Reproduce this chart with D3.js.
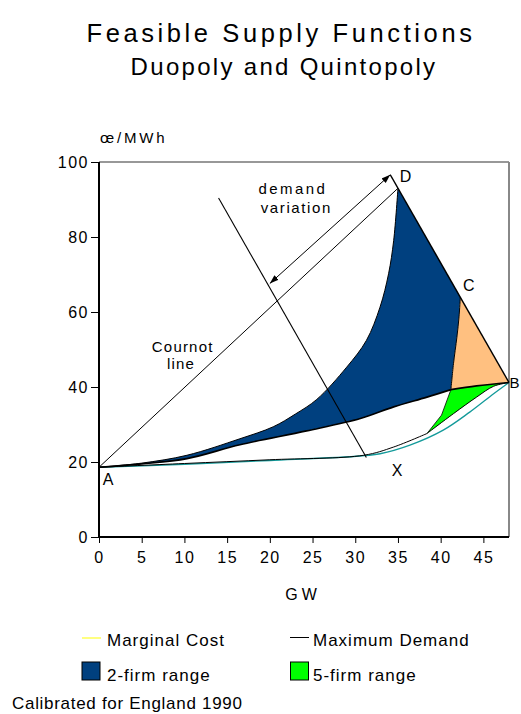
<!DOCTYPE html>
<html>
<head>
<meta charset="utf-8">
<script src="https://cdn.jsdelivr.net/npm/d3@7"></script>
<style>
  body { margin: 0; background: #fff; }
  text { font-family: "Liberation Sans", Arial, sans-serif; fill: #000; }
</style>
</head>
<body>
<div id="chart"></div>
<script>
// values (GW, £/MWh)
var xTicks = [0, 5, 10, 15, 20, 25, 30, 35, 40, 45];
var yTicks = [0, 20, 40, 60, 80, 100];

var pointA = [0, 18.6], pointB = [48, 41.2], pointC = [42.3, 64], pointD = [35, 93];
var pointP = [41.2, 39.3];   // where 2-firm, 5-firm and orange meet
var pointQ = [38.4, 27.6];   // bottom tip of 5-firm range

var marginalCost = [[0, 18.6], [10, 19.4], [20, 20.4], [30.6, 21.6], [32.9, 22.2], [36.4, 24.5],
                    [40.3, 28.5], [43.4, 33.3], [46.2, 38.2], [48, 41.2]];
var lowestSupply = [[0, 18.6], [10, 19.6], [20, 20.6], [31, 21.8], [34.5, 24], [38.4, 27.6]];
var twoFirmUpper = [[0, 18.6], [5, 19.7], [10.3, 21.8], [16.5, 26.2], [20.4, 29.4], [23, 32.8],
                    [25.5, 36.7], [29, 45.3], [31.3, 52.4], [32.9, 61.3], [33.9, 70.2], [34.5, 79.1], [35, 93]];
var twoFirmLower = [[0, 18.6], [5, 19.5], [10.3, 20.9], [16.5, 24.6], [24.3, 28.3], [30.6, 31.6],
                    [34.5, 34.7], [38.4, 37.3], [41.2, 39.3]];
var fiveFirmUpper = [[41.2, 39.3], [44.2, 40.3], [48, 41.2]];
var fiveFirmLower = [[38.4, 27.6], [41.5, 32.9], [44.2, 37.3], [46.2, 40.2], [48, 41.2]];
var fiveFirmLeft = [[38.4, 27.6], [40.1, 32.5], [41.2, 39.3]];
var orangeEdge = [[41.2, 39.3], [41.5, 46.2], [41.9, 53.3], [42.15, 58.7], [42.3, 64]];

var cournotLine = [[0, 18.6], [35, 93]];
var maxDemand = [[34.1, 96.6], [48, 41.2]];
var minDemand = [[14, 90.4], [31.3, 21.2]];
var demandArrow = [[20, 67.6], [34.1, 96.6]];

var legendItems = ["Marginal Cost", "Maximum Demand", "2-firm range", "5-firm range"];

var margin = {top: 162, right: 12, bottom: 177, left: 99},
    width = 521 - margin.left - margin.right,
    height = 714 - margin.top - margin.bottom;

var svg = d3.select("#chart").append("svg")
    .attr("width", 521)
    .attr("height", 714);

var x = d3.scaleLinear().domain([0, 48]).range([0, width]);
var y = d3.scaleLinear().domain([0, 100]).range([height, 0]);

var g = svg.append("g").attr("transform", "translate(" + margin.left + "," + margin.top + ")");

var curved = d3.line().x(function(d) { return x(d[0]); }).y(function(d) { return y(d[1]); })
    .curve(d3.curveCatmullRom.alpha(0.5));
var straight = d3.line().x(function(d) { return x(d[0]); }).y(function(d) { return y(d[1]); });

function rev(a) { return a.slice().reverse(); }
function shape(parts) {
  return parts.map(function(p, i) { return i ? p.replace(/^M/, "L") : p; }).join("") + "Z";
}

// titles
svg.append("text").attr("x", 281).attr("y", 42).attr("text-anchor", "middle")
  .style("font-size", "25.5px").style("letter-spacing", "3.6px").text("Feasible Supply Functions");
svg.append("text").attr("x", 284).attr("y", 75).attr("text-anchor", "middle")
  .style("font-size", "24px").style("letter-spacing", "2.3px").text("Duopoly and Quintopoly");
svg.append("text").attr("x", 100).attr("y", 143)
  .style("font-size", "15px").style("letter-spacing", "2.8px").text("œ/MWh");

// frame
g.append("line").attr("x1", 0).attr("x2", width).attr("y1", 0).attr("y2", 0)
  .style("stroke", "#333").style("stroke-width", 1.2);
g.append("line").attr("x1", width).attr("x2", width).attr("y1", 0).attr("y2", height)
  .style("stroke", "#888").style("stroke-width", 2);

// regions
g.append("path")
  .attr("d", shape([curved(twoFirmUpper), straight([pointD, pointC]), curved(rev(orangeEdge)), curved(rev(twoFirmLower))]))
  .style("fill", "#00407f").style("stroke", "none");
g.append("path")
  .attr("d", shape([straight([pointC, pointB]), curved(rev(fiveFirmUpper)), curved(orangeEdge)]))
  .style("fill", "#ffc080").style("stroke", "none");
g.append("path")
  .attr("d", shape([curved(fiveFirmUpper), curved(rev(fiveFirmLower)), straight(fiveFirmLeft)]))
  .style("fill", "#00ff00").style("stroke", "none");

// curves
g.append("path").attr("d", curved(marginalCost))
  .style("fill", "none").style("stroke", "#139a9a").style("stroke-width", 1.3);
[lowestSupply, fiveFirmLower, twoFirmUpper, orangeEdge].forEach(function(c) {
  g.append("path").attr("d", curved(c)).style("fill", "none").style("stroke", "#000").style("stroke-width", 1);
});
g.append("path").attr("d", straight(fiveFirmLeft)).style("fill", "none").style("stroke", "#000").style("stroke-width", 0.8);
[twoFirmLower, fiveFirmUpper].forEach(function(c) {
  g.append("path").attr("d", curved(c)).style("fill", "none").style("stroke", "#000").style("stroke-width", 1.6);
});
g.append("path").attr("d", straight(maxDemand)).style("fill", "none").style("stroke", "#000").style("stroke-width", 1.5);
g.append("path").attr("d", straight(cournotLine)).style("fill", "none").style("stroke", "#000").style("stroke-width", 1);
g.append("path").attr("d", straight(minDemand)).style("fill", "none").style("stroke", "#000").style("stroke-width", 1.1);

// demand variation arrow
svg.append("defs").selectAll("marker").data(["head"]).enter().append("marker")
  .attr("id", "head").attr("viewBox", "0 0 10 10").attr("refX", 10).attr("refY", 5)
  .attr("markerWidth", 9).attr("markerHeight", 9).attr("markerUnits", "userSpaceOnUse")
  .attr("orient", "auto-start-reverse")
  .append("path").attr("d", "M0,1.5L10,5L0,8.5Z").style("fill", "#000");
g.append("path").attr("d", straight(demandArrow))
  .style("fill", "none").style("stroke", "#000").style("stroke-width", 1)
  .attr("marker-start", "url(#head)").attr("marker-end", "url(#head)");

// axes
var yAxis = g.append("g").call(d3.axisLeft(y).tickValues(yTicks).tickSize(8).tickPadding(2));
var xAxis = g.append("g").attr("transform", "translate(0," + height + ")")
  .call(d3.axisBottom(x).tickValues(xTicks).tickSize(6).tickPadding(9));
[xAxis, yAxis].forEach(function(a) {
  a.select(".domain").style("stroke", "#000").style("stroke-width", 2);
  a.selectAll(".tick line").style("stroke", "#000").style("stroke-width", 1);
  a.selectAll(".tick text").style("font-size", "16px").style("letter-spacing", "1.5px")
    .style("font-family", "'Liberation Sans', Arial, sans-serif").attr("fill", "#000");
});
xAxis.select(".domain").attr("d", "M0,0H" + width);
yAxis.select(".domain").attr("d", "M0,0V" + height);
yAxis.selectAll(".tick text").attr("dy", "0.36em");

svg.append("text").attr("x", 303).attr("y", 600).attr("text-anchor", "middle")
  .style("font-size", "16px").style("letter-spacing", "4px").text("GW");

// annotations
function note(txt, px, py, anchor, size, spacing) {
  g.append("text").attr("x", x(px)).attr("y", y(py)).attr("dy", "0.36em")
    .attr("text-anchor", anchor).style("font-size", size + "px").style("letter-spacing", spacing + "px").text(txt);
}
note("A", 1.05, 15.3, "middle", 16, 0);
note("X", 34.9, 17.8, "middle", 16, 0);
note("D", 35.9, 96.3, "middle", 16, 0);
note("C", 43.3, 67.1, "middle", 16, 0);
note("B", 48.05, 41.1, "start", 15, 0);
note("demand", 22.7, 92.9, "middle", 15, 2.4);
note("variation", 23.1, 87.8, "middle", 15, 1.6);
note("Cournot", 9.8, 50.9, "middle", 15, 1.2);
note("line", 9.6, 46.3, "middle", 15, 1.2);

// legend
var leg = svg.append("g");
leg.append("line").attr("x1", 82).attr("x2", 101).attr("y1", 638).attr("y2", 638)
  .style("stroke", "#ffff80").style("stroke-width", 2);
leg.append("line").attr("x1", 290).attr("x2", 309).attr("y1", 637.5).attr("y2", 637.5)
  .style("stroke", "#000").style("stroke-width", 1);
leg.append("rect").attr("x", 82).attr("y", 662).attr("width", 18).attr("height", 18)
  .style("fill", "#00407f").style("stroke", "#000").style("stroke-width", 1);
leg.append("rect").attr("x", 290.5).attr("y", 662).attr("width", 18).attr("height", 18)
  .style("fill", "#00ff00").style("stroke", "#000").style("stroke-width", 1);
leg.selectAll("text.item").data(legendItems).enter().append("text").attr("class", "item")
  .attr("x", function(d, i) { return i % 2 ? 313 : 107; })
  .attr("y", function(d, i) { return i < 2 ? 645.5 : 681; })
  .style("font-size", "17px").style("letter-spacing", "1px")
  .text(function(d) { return d; });
svg.append("text").attr("x", 12).attr("y", 709).style("font-size", "17px").style("letter-spacing", "0.7px")
  .text("Calibrated for England 1990");
</script>
</body>
</html>
